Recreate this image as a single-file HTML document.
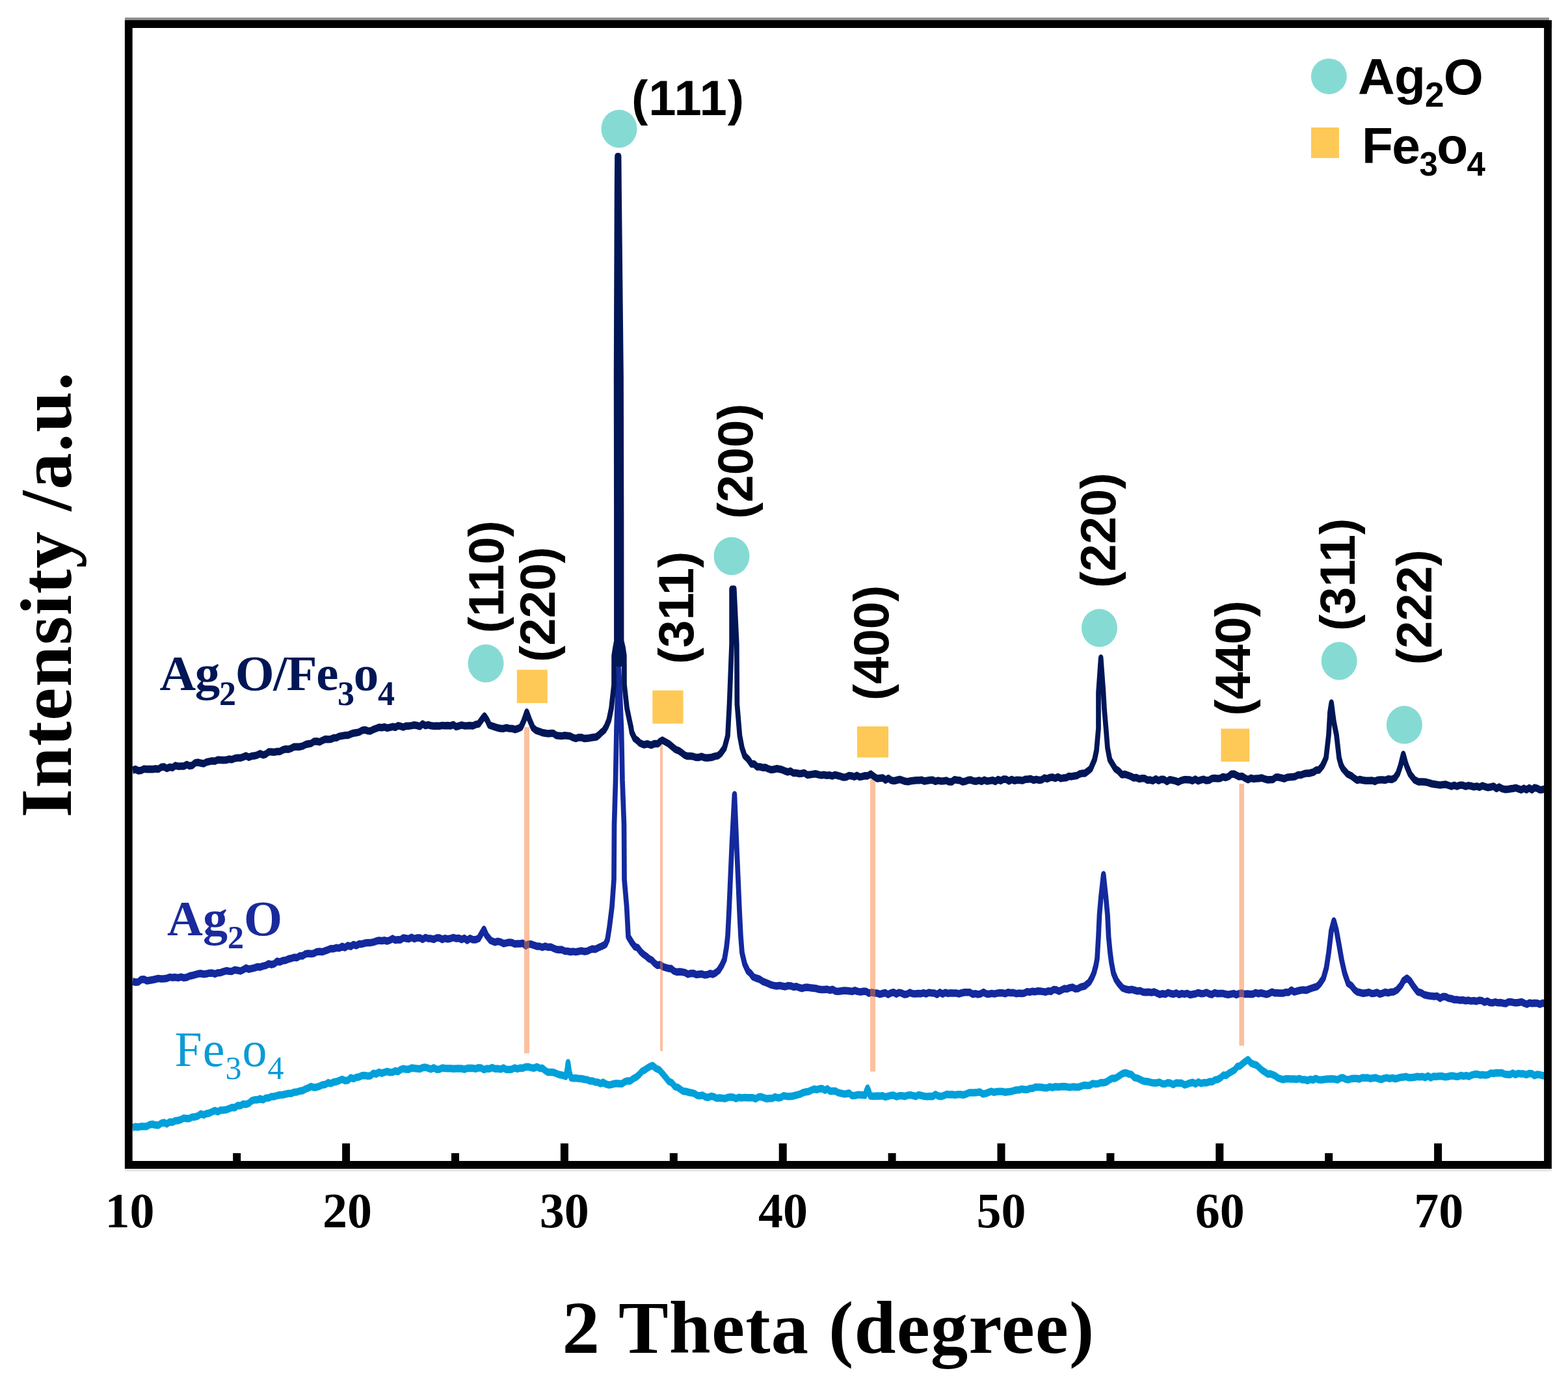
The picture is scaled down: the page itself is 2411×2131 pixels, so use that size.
<!DOCTYPE html>
<html><head><meta charset="utf-8"><title>XRD patterns</title>
<style>html,body{margin:0;padding:0;background:#fff;overflow:hidden;}svg{display:block;}</style>
</head><body>
<svg width="2411" height="2131" viewBox="0 0 2411 2131">
<path transform="scale(0.667 1)" d="M305.70 1733.7 L312.29 1732.3 L318.89 1732.9 L325.49 1731.8 L332.08 1732.1 L338.68 1731.7 L345.28 1729.2 L351.87 1728.5 L358.47 1729.8 L365.00 1730.1 L371.53 1727.1 L378.06 1726.0 L384.59 1727.9 L391.12 1725.0 L397.65 1725.4 L404.18 1723.2 L410.71 1722.8 L417.24 1721.4 L423.75 1719.1 L430.27 1719.8 L436.78 1719.7 L443.30 1717.4 L449.81 1717.2 L456.32 1715.9 L462.84 1712.7 L469.35 1714.2 L475.86 1712.2 L482.39 1711.5 L488.92 1709.4 L495.45 1707.4 L501.98 1709.3 L508.51 1706.9 L515.04 1706.7 L521.57 1706.3 L528.10 1704.6 L534.63 1702.8 L541.15 1703.0 L547.66 1699.8 L554.17 1700.0 L560.69 1697.4 L567.20 1697.9 L573.71 1696.4 L580.23 1692.3 L586.74 1691.1 L593.25 1691.1 L599.77 1689.2 L606.28 1691.0 L612.79 1688.2 L619.31 1688.0 L625.82 1686.0 L632.33 1685.9 L638.85 1684.5 L645.36 1683.5 L651.87 1683.2 L658.40 1682.3 L664.93 1681.2 L671.46 1681.2 L677.99 1679.2 L684.52 1678.9 L691.05 1677.5 L697.58 1676.8 L704.11 1674.5 L710.64 1672.7 L717.16 1670.5 L723.67 1672.0 L730.18 1671.4 L736.70 1670.2 L743.21 1667.9 L749.73 1667.5 L756.24 1664.7 L762.75 1665.9 L769.27 1663.7 L775.80 1663.1 L782.33 1661.2 L788.86 1659.5 L795.39 1661.5 L801.92 1661.1 L808.45 1657.0 L814.98 1658.6 L821.51 1656.4 L828.04 1655.8 L834.55 1653.7 L841.06 1653.5 L847.58 1654.4 L854.09 1653.9 L860.60 1650.2 L867.12 1651.4 L873.63 1648.6 L880.14 1650.2 L886.66 1648.6 L892.80 1647.4 L898.95 1648.8 L905.10 1648.6 L911.24 1646.4 L917.39 1647.6 L923.54 1644.5 L929.69 1643.1 L935.83 1644.1 L942.26 1644.2 L948.69 1642.0 L955.12 1642.4 L961.54 1642.9 L967.97 1643.4 L974.40 1641.6 L980.83 1641.0 L987.26 1642.4 L993.67 1643.8 L1000.07 1641.8 L1006.48 1644.2 L1012.89 1644.0 L1019.30 1642.1 L1025.71 1642.5 L1032.12 1642.7 L1038.53 1642.7 L1044.96 1643.2 L1051.39 1643.0 L1057.81 1642.8 L1064.24 1643.0 L1070.67 1644.1 L1077.10 1642.5 L1083.53 1642.2 L1089.96 1642.4 L1096.36 1643.3 L1102.77 1641.7 L1109.18 1642.0 L1115.59 1644.6 L1122.00 1643.0 L1128.41 1643.2 L1134.82 1641.4 L1141.23 1643.3 L1147.65 1643.1 L1154.07 1643.9 L1160.49 1642.0 L1166.92 1644.3 L1173.34 1644.4 L1179.76 1644.1 L1186.18 1641.9 L1192.60 1643.3 L1199.03 1642.1 L1205.45 1642.2 L1211.87 1640.4 L1218.29 1640.3 L1224.70 1641.6 L1231.11 1642.2 L1237.52 1640.2 L1243.93 1642.4 L1250.34 1642.3 L1256.75 1646.0 L1263.16 1648.6 L1269.57 1648.4 L1276.01 1648.7 L1282.46 1650.5 L1288.91 1652.2 L1295.35 1653.0 L1304.35 1655.0 L1307.35 1645.0 L1309.45 1634.0 L1312.59 1648.0 L1316.34 1657.0 L1320.99 1657.8 L1327.40 1657.6 L1333.81 1658.2 L1340.22 1658.4 L1346.63 1659.5 L1353.04 1660.1 L1359.45 1662.0 L1365.85 1662.0 L1372.26 1663.8 L1378.26 1664.0 L1384.26 1666.1 L1390.25 1664.0 L1396.25 1666.6 L1402.25 1667.9 L1408.25 1667.7 L1414.64 1666.5 L1421.04 1665.7 L1427.44 1666.2 L1433.85 1666.2 L1440.25 1663.2 L1446.66 1661.9 L1453.07 1662.0 L1459.97 1658.4 L1466.87 1656.0 L1473.76 1652.0 L1480.13 1647.1 L1486.51 1645.0 L1492.50 1642.1 L1498.50 1639.9 L1504.50 1638.2 L1512.22 1642.8 L1519.94 1645.0 L1527.59 1650.8 L1535.23 1657.0 L1542.08 1662.8 L1548.93 1664.8 L1555.77 1670.5 L1562.22 1671.8 L1568.67 1674.9 L1575.11 1677.7 L1581.56 1678.2 L1587.97 1679.5 L1594.38 1680.2 L1600.79 1681.3 L1607.20 1684.2 L1613.61 1684.8 L1620.01 1684.0 L1626.42 1686.7 L1632.83 1687.3 L1639.24 1685.4 L1645.65 1686.3 L1652.06 1688.6 L1658.47 1688.0 L1664.90 1688.5 L1671.33 1689.1 L1677.75 1687.4 L1684.18 1686.7 L1690.61 1687.3 L1697.04 1689.1 L1703.47 1687.2 L1709.90 1688.0 L1716.30 1687.4 L1722.71 1687.7 L1729.12 1687.7 L1735.53 1687.7 L1741.94 1689.5 L1748.35 1686.8 L1754.76 1686.2 L1761.17 1688.0 L1767.60 1689.3 L1774.03 1688.7 L1780.45 1688.8 L1786.88 1686.5 L1793.31 1688.0 L1799.74 1687.6 L1806.17 1684.7 L1812.59 1685.4 L1819.00 1685.8 L1825.41 1685.6 L1831.82 1684.5 L1838.23 1683.4 L1844.64 1682.2 L1851.05 1680.0 L1857.46 1678.9 L1863.87 1678.2 L1870.28 1676.2 L1876.69 1674.5 L1883.10 1675.4 L1889.51 1674.0 L1895.50 1673.8 L1901.50 1676.3 L1907.50 1674.1 L1913.49 1677.7 L1919.49 1677.5 L1925.49 1677.4 L1931.89 1679.9 L1938.30 1680.9 L1944.70 1681.9 L1951.10 1681.7 L1957.51 1680.7 L1963.91 1684.4 L1970.31 1684.5 L1978.21 1683.2 L1986.11 1683.4 L1994.00 1684.0 L1997.00 1678.0 L2000.00 1673.0 L2003.00 1678.0 L2006.00 1685.0 L2013.87 1685.6 L2021.74 1685.1 L2028.15 1685.2 L2034.56 1684.7 L2040.97 1686.6 L2047.38 1685.4 L2053.79 1684.3 L2060.19 1684.0 L2066.60 1686.1 L2073.01 1684.8 L2079.44 1684.7 L2085.87 1685.7 L2092.30 1684.2 L2098.73 1683.6 L2105.15 1684.7 L2111.58 1685.7 L2118.01 1683.4 L2124.44 1684.5 L2130.85 1685.6 L2137.26 1686.0 L2143.67 1685.6 L2150.07 1685.7 L2156.48 1682.7 L2162.89 1685.0 L2169.30 1685.8 L2175.71 1684.5 L2182.14 1682.6 L2188.57 1683.1 L2195.00 1682.8 L2201.42 1683.4 L2207.85 1682.8 L2214.28 1682.7 L2220.71 1683.5 L2227.14 1682.2 L2233.55 1680.1 L2239.96 1680.0 L2246.36 1679.9 L2252.77 1679.6 L2259.18 1679.1 L2265.59 1682.0 L2272.00 1681.3 L2278.41 1679.7 L2284.84 1678.0 L2291.27 1679.4 L2297.69 1678.5 L2304.12 1678.3 L2310.55 1678.3 L2316.98 1679.2 L2323.41 1678.8 L2329.84 1678.3 L2336.24 1677.2 L2342.65 1675.9 L2349.06 1675.8 L2355.47 1674.4 L2361.88 1675.3 L2368.29 1675.3 L2374.70 1673.4 L2381.11 1673.2 L2387.54 1671.4 L2393.97 1671.4 L2400.39 1671.8 L2406.82 1672.4 L2413.25 1672.7 L2419.68 1671.0 L2426.11 1672.2 L2432.53 1670.8 L2439.32 1671.3 L2446.11 1670.7 L2452.90 1670.6 L2459.69 1671.1 L2466.48 1671.9 L2473.27 1670.9 L2480.06 1671.3 L2486.49 1671.4 L2492.92 1669.9 L2499.34 1668.5 L2505.77 1668.9 L2512.20 1668.8 L2518.63 1665.9 L2525.06 1666.6 L2531.48 1666.2 L2537.89 1664.5 L2544.30 1664.7 L2550.71 1663.5 L2557.12 1660.5 L2563.53 1658.1 L2569.94 1658.1 L2576.35 1655.8 L2582.76 1652.8 L2589.21 1650.2 L2595.65 1649.4 L2602.06 1651.3 L2608.47 1652.1 L2614.88 1656.7 L2621.29 1657.6 L2627.70 1659.6 L2634.11 1661.7 L2640.52 1662.8 L2646.93 1663.1 L2653.35 1664.3 L2659.77 1665.1 L2666.19 1665.0 L2672.61 1663.9 L2679.04 1666.2 L2685.46 1666.5 L2691.89 1664.8 L2698.31 1665.3 L2704.74 1667.6 L2711.17 1665.0 L2717.60 1665.2 L2724.03 1665.3 L2730.45 1668.1 L2736.88 1666.8 L2743.29 1665.2 L2749.70 1664.2 L2756.11 1666.6 L2762.52 1663.6 L2768.93 1665.7 L2775.34 1664.6 L2781.75 1664.8 L2788.16 1663.1 L2794.57 1663.2 L2800.97 1660.4 L2807.38 1659.7 L2813.79 1657.1 L2820.24 1653.1 L2826.69 1653.4 L2833.13 1650.1 L2839.58 1647.7 L2845.99 1645.2 L2852.40 1639.8 L2858.81 1638.9 L2865.22 1634.8 L2876.76 1629.2 L2883.81 1634.4 L2890.85 1636.5 L2897.26 1637.9 L2903.67 1641.9 L2910.08 1645.7 L2916.49 1648.5 L2922.49 1651.4 L2928.49 1651.0 L2934.48 1652.5 L2940.48 1654.5 L2946.48 1657.5 L2952.47 1658.8 L2958.60 1659.9 L2964.73 1658.7 L2970.86 1658.8 L2976.99 1659.0 L2983.11 1659.0 L2989.24 1659.4 L2995.37 1658.3 L3001.50 1660.0 L3007.83 1659.9 L3014.15 1661.5 L3020.48 1659.4 L3026.81 1660.5 L3033.13 1658.2 L3039.46 1660.0 L3045.79 1660.2 L3052.11 1659.7 L3058.44 1659.1 L3064.77 1658.9 L3071.06 1658.8 L3077.36 1659.3 L3083.66 1660.2 L3089.96 1657.4 L3096.25 1657.1 L3102.55 1659.4 L3108.85 1660.0 L3115.14 1658.5 L3121.44 1658.2 L3127.74 1658.3 L3134.05 1659.0 L3140.36 1657.1 L3146.67 1657.3 L3152.98 1657.1 L3159.30 1658.4 L3165.61 1657.4 L3171.92 1657.1 L3178.23 1658.7 L3184.54 1659.6 L3190.85 1657.9 L3197.17 1657.1 L3203.48 1658.4 L3209.79 1657.3 L3216.10 1658.7 L3222.41 1657.7 L3228.73 1656.4 L3235.04 1656.1 L3241.35 1655.3 L3247.66 1656.8 L3253.97 1656.8 L3260.28 1656.2 L3266.60 1655.2 L3272.91 1655.7 L3279.22 1655.3 L3285.53 1656.7 L3291.84 1654.3 L3298.16 1657.1 L3304.47 1655.0 L3310.78 1655.3 L3317.09 1654.7 L3323.40 1654.5 L3329.72 1655.7 L3336.03 1655.6 L3342.34 1654.5 L3348.65 1654.1 L3354.96 1654.9 L3361.27 1655.3 L3367.59 1653.5 L3373.90 1654.6 L3380.21 1653.7 L3386.51 1655.0 L3392.80 1652.9 L3399.10 1651.8 L3405.40 1651.5 L3411.69 1652.9 L3417.99 1652.4 L3424.29 1653.1 L3430.58 1652.4 L3436.88 1649.9 L3443.18 1650.5 L3449.49 1649.4 L3455.80 1649.8 L3462.11 1649.6 L3468.43 1651.5 L3474.74 1652.1 L3481.05 1652.3 L3487.36 1650.0 L3493.67 1652.3 L3499.99 1650.4 L3506.30 1651.1 L3512.51 1651.1 L3518.72 1652.5 L3524.94 1650.5 L3531.15 1650.8 L3537.36 1653.7 L3543.58 1652.1 L3549.79 1652.6 L3556.01 1653.7 L3562.22 1653.7" fill="none" stroke="#00a0da" stroke-width="11.5" stroke-linejoin="round" stroke-linecap="butt"/>
<path transform="scale(0.667 1)" d="M305.70 1509.0 L312.29 1510.2 L318.89 1509.7 L325.49 1506.1 L332.08 1505.8 L338.68 1508.0 L345.28 1507.2 L351.87 1506.5 L358.47 1505.5 L365.00 1504.4 L371.53 1505.1 L378.06 1504.8 L384.59 1504.3 L391.12 1502.4 L397.65 1503.1 L404.18 1502.6 L410.71 1503.4 L417.24 1502.2 L423.75 1503.4 L430.27 1502.7 L436.78 1500.7 L443.30 1499.8 L449.81 1498.6 L456.32 1497.3 L462.84 1496.7 L469.35 1497.7 L475.86 1497.3 L482.39 1496.2 L488.92 1496.0 L495.45 1497.4 L501.98 1495.7 L508.51 1495.4 L515.04 1493.8 L521.57 1492.6 L528.10 1493.2 L534.63 1493.4 L541.15 1491.3 L547.66 1491.9 L554.17 1492.9 L560.69 1491.0 L567.20 1488.4 L573.71 1490.2 L580.23 1489.1 L586.74 1488.1 L593.25 1486.5 L599.77 1486.9 L606.28 1485.4 L612.79 1484.4 L619.31 1481.8 L625.82 1483.0 L632.33 1481.9 L638.85 1478.0 L645.36 1479.1 L651.87 1477.1 L658.40 1476.6 L664.93 1474.5 L671.46 1473.5 L677.99 1472.1 L684.52 1472.5 L691.05 1469.7 L697.58 1469.7 L704.11 1466.7 L710.64 1466.0 L717.16 1466.6 L723.67 1465.8 L730.18 1463.4 L736.70 1463.0 L743.21 1463.5 L749.73 1461.9 L756.24 1460.3 L762.75 1458.5 L769.27 1458.7 L775.80 1457.2 L782.33 1457.8 L788.86 1455.0 L795.39 1456.9 L801.92 1453.8 L808.45 1455.2 L814.98 1452.3 L821.51 1453.8 L828.04 1451.3 L834.55 1451.4 L841.06 1450.1 L847.58 1449.5 L854.09 1449.4 L860.60 1448.6 L867.12 1447.0 L873.63 1446.0 L880.14 1446.5 L886.66 1445.8 L892.80 1447.0 L898.95 1445.5 L905.10 1443.1 L911.24 1445.4 L917.39 1444.7 L923.54 1444.9 L929.69 1442.0 L935.83 1442.7 L942.26 1443.6 L948.69 1441.2 L955.12 1443.4 L961.54 1442.0 L967.97 1441.9 L974.40 1444.3 L980.83 1441.5 L987.26 1443.0 L993.67 1443.1 L1000.07 1444.3 L1006.48 1442.1 L1012.89 1442.0 L1019.30 1444.4 L1025.71 1442.7 L1032.12 1443.8 L1038.53 1443.0 L1044.96 1441.5 L1051.39 1442.9 L1057.81 1442.5 L1064.24 1444.5 L1070.67 1442.6 L1077.10 1445.9 L1083.53 1442.8 L1089.96 1444.7 L1096.70 1444.7 L1103.45 1443.0 L1109.45 1436.0 L1115.59 1429.0 L1121.44 1438.0 L1131.03 1446.0 L1141.23 1448.7 L1147.68 1447.3 L1154.12 1448.4 L1160.57 1450.7 L1167.02 1449.9 L1173.43 1448.9 L1179.84 1449.3 L1186.24 1451.3 L1192.65 1450.9 L1199.06 1451.0 L1205.47 1450.3 L1211.88 1454.2 L1218.29 1451.7 L1224.70 1451.8 L1231.11 1453.4 L1237.52 1454.9 L1243.93 1455.0 L1250.36 1456.5 L1256.78 1454.9 L1263.21 1456.3 L1269.64 1455.9 L1276.07 1458.0 L1282.50 1459.8 L1288.92 1460.3 L1295.35 1460.1 L1301.76 1462.2 L1308.17 1462.4 L1314.58 1463.5 L1320.99 1462.9 L1327.40 1463.6 L1333.81 1462.8 L1340.22 1461.9 L1346.63 1462.9 L1353.04 1462.6 L1359.45 1460.5 L1365.85 1458.9 L1372.26 1459.5 L1379.54 1457.1 L1386.81 1455.0 L1395.50 1452.0 L1400.30 1445.0 L1404.80 1426.0 L1410.79 1394.0 L1415.29 1352.0 L1416.04 1268.0 L1419.04 1200.0 L1421.29 1120.0 L1424.29 1060.0 L1426.54 1028.0 L1428.79 1060.0 L1432.53 1120.0 L1434.78 1200.0 L1438.53 1268.0 L1439.28 1352.0 L1444.68 1394.0 L1446.78 1420.0 L1448.28 1440.0 L1457.42 1450.0 L1463.83 1455.6 L1470.24 1457.2 L1476.65 1463.1 L1483.06 1467.1 L1489.51 1470.1 L1495.95 1474.0 L1502.40 1476.1 L1508.85 1480.8 L1515.25 1484.2 L1521.66 1483.3 L1528.07 1486.3 L1534.48 1487.6 L1540.89 1489.0 L1547.30 1489.3 L1553.71 1493.0 L1560.12 1494.5 L1566.53 1494.1 L1572.94 1494.6 L1579.35 1495.4 L1585.76 1497.9 L1592.20 1496.7 L1598.65 1496.4 L1605.10 1498.4 L1611.54 1497.9 L1617.95 1497.6 L1624.36 1499.0 L1630.77 1498.6 L1637.18 1496.7 L1643.18 1498.1 L1649.18 1496.0 L1656.67 1492.0 L1664.17 1484.0 L1670.16 1475.0 L1674.66 1457.0 L1677.66 1439.0 L1680.66 1400.0 L1683.66 1353.0 L1687.11 1300.0 L1693.25 1222.0 L1698.20 1300.0 L1701.65 1353.0 L1704.65 1400.0 L1707.65 1440.0 L1710.64 1465.0 L1716.64 1482.0 L1724.14 1493.0 L1730.13 1496.5 L1736.13 1502.0 L1743.48 1504.0 L1750.82 1505.5 L1758.17 1508.9 L1765.52 1510.8 L1771.93 1512.5 L1778.34 1514.4 L1784.75 1515.4 L1791.15 1515.9 L1797.58 1515.3 L1804.01 1516.3 L1810.44 1517.0 L1816.87 1515.4 L1823.29 1515.9 L1829.72 1517.5 L1836.15 1516.8 L1842.58 1518.5 L1848.99 1519.7 L1855.40 1518.3 L1861.81 1518.1 L1868.22 1518.8 L1874.63 1519.3 L1881.03 1519.7 L1887.44 1521.1 L1893.85 1521.4 L1900.28 1521.5 L1906.71 1521.1 L1913.14 1522.5 L1919.57 1521.2 L1925.99 1523.9 L1932.42 1524.3 L1938.85 1523.7 L1945.28 1523.1 L1951.67 1523.2 L1958.07 1523.8 L1964.47 1524.4 L1970.86 1522.8 L1977.26 1524.4 L1983.66 1525.1 L1990.05 1524.2 L1996.45 1524.2 L2002.85 1527.1 L2009.25 1525.9 L2015.64 1526.7 L2022.04 1527.0 L2028.33 1528.6 L2034.61 1527.5 L2040.90 1526.5 L2047.18 1529.0 L2053.47 1526.9 L2059.76 1525.7 L2066.04 1528.2 L2072.33 1526.1 L2078.61 1526.9 L2084.90 1528.9 L2091.19 1528.4 L2097.47 1526.1 L2103.76 1527.8 L2110.04 1528.0 L2116.33 1527.6 L2122.62 1527.8 L2128.90 1526.7 L2135.19 1528.0 L2141.48 1526.1 L2147.76 1526.8 L2154.05 1527.0 L2160.33 1529.0 L2166.62 1525.8 L2172.91 1528.2 L2179.19 1526.1 L2185.48 1527.4 L2191.76 1526.7 L2198.05 1527.0 L2204.34 1526.9 L2210.62 1528.0 L2216.91 1526.7 L2223.20 1525.8 L2229.48 1525.8 L2235.77 1525.7 L2242.05 1528.5 L2248.34 1527.7 L2254.63 1528.9 L2260.91 1528.0 L2267.20 1525.6 L2273.48 1527.9 L2279.77 1528.4 L2286.06 1527.4 L2292.34 1528.1 L2298.63 1527.1 L2304.92 1526.5 L2311.20 1526.7 L2317.49 1527.8 L2323.77 1525.7 L2330.06 1526.5 L2336.35 1526.2 L2342.63 1527.8 L2348.92 1527.1 L2355.20 1527.4 L2361.49 1526.9 L2367.78 1524.8 L2374.06 1525.4 L2380.18 1524.2 L2386.31 1524.8 L2392.43 1523.7 L2398.55 1524.0 L2404.67 1524.6 L2410.79 1525.2 L2416.92 1523.7 L2423.04 1524.3 L2429.16 1521.4 L2435.28 1522.0 L2441.40 1524.1 L2447.53 1522.0 L2453.80 1520.1 L2460.08 1520.4 L2466.35 1518.6 L2472.63 1518.0 L2478.90 1520.3 L2485.18 1520.0 L2491.45 1517.6 L2500.75 1516.0 L2511.24 1510.0 L2517.24 1503.0 L2521.74 1496.0 L2526.24 1485.0 L2529.24 1474.0 L2532.23 1440.0 L2534.48 1407.0 L2537.93 1380.0 L2543.78 1345.0 L2549.48 1380.0 L2553.22 1407.0 L2555.62 1440.0 L2559.22 1465.0 L2562.22 1480.0 L2566.72 1496.0 L2572.71 1506.0 L2578.71 1512.0 L2587.71 1519.0 L2595.50 1521.0 L2603.30 1522.0 L2609.45 1521.3 L2615.59 1522.5 L2621.74 1523.8 L2628.25 1523.3 L2634.77 1525.3 L2641.28 1525.8 L2647.79 1525.3 L2654.31 1526.1 L2660.82 1525.0 L2667.33 1527.0 L2673.85 1528.9 L2680.36 1527.7 L2686.66 1528.6 L2692.95 1526.2 L2699.25 1527.8 L2705.55 1528.5 L2711.84 1526.8 L2718.14 1529.1 L2724.44 1527.6 L2730.73 1528.4 L2737.03 1527.4 L2743.33 1529.5 L2749.63 1528.7 L2755.92 1528.0 L2762.22 1526.4 L2768.52 1527.7 L2774.80 1527.5 L2781.09 1526.0 L2787.37 1528.0 L2793.66 1529.1 L2799.95 1526.5 L2806.23 1527.7 L2812.52 1527.6 L2818.80 1527.4 L2825.09 1528.5 L2831.38 1529.3 L2837.66 1528.4 L2843.95 1527.6 L2850.24 1529.4 L2856.52 1527.7 L2862.81 1527.0 L2869.09 1528.5 L2875.38 1528.1 L2881.67 1528.4 L2887.95 1528.6 L2894.24 1526.3 L2900.52 1527.7 L2906.81 1526.8 L2913.10 1527.7 L2919.38 1528.8 L2925.67 1527.5 L2931.96 1525.2 L2938.24 1526.7 L2944.53 1526.8 L2951.04 1527.0 L2957.55 1527.1 L2964.07 1525.7 L2970.58 1525.8 L2977.09 1522.3 L2983.61 1525.1 L2990.12 1523.8 L2996.64 1522.8 L3003.15 1521.9 L3012.07 1522.4 L3020.99 1520.0 L3029.99 1518.0 L3035.98 1516.9 L3041.98 1513.0 L3050.97 1504.0 L3057.72 1488.0 L3062.97 1465.0 L3068.97 1431.0 L3074.96 1416.0 L3080.96 1431.0 L3086.96 1453.0 L3092.95 1476.0 L3099.70 1496.0 L3107.95 1512.0 L3115.44 1515.6 L3122.94 1522.0 L3128.94 1525.1 L3134.93 1526.0 L3142.43 1527.2 L3149.93 1526.5 L3156.05 1525.6 L3162.17 1527.6 L3168.29 1527.2 L3174.41 1525.9 L3180.53 1528.3 L3186.66 1527.3 L3193.22 1525.4 L3199.78 1526.6 L3206.33 1525.3 L3212.89 1525.0 L3220.69 1522.0 L3229.84 1515.0 L3235.38 1508.0 L3243.48 1504.0 L3250.37 1508.0 L3257.12 1515.0 L3268.37 1525.0 L3275.86 1526.4 L3283.36 1529.5 L3291.83 1530.8 L3300.30 1531.6 L3306.81 1532.0 L3313.32 1531.6 L3319.83 1534.9 L3326.34 1532.2 L3332.86 1532.5 L3339.37 1534.8 L3345.88 1535.4 L3352.37 1537.1 L3358.86 1537.0 L3365.35 1537.9 L3371.84 1537.5 L3378.33 1538.7 L3384.81 1538.0 L3391.30 1539.1 L3397.51 1538.5 L3403.71 1539.5 L3409.91 1538.0 L3416.11 1538.4 L3422.31 1541.1 L3428.51 1539.2 L3434.71 1541.5 L3440.92 1541.8 L3447.12 1540.6 L3453.32 1541.8 L3459.52 1541.4 L3465.56 1542.5 L3471.60 1542.9 L3477.64 1540.4 L3483.68 1540.6 L3489.73 1541.4 L3495.77 1541.8 L3501.81 1541.3 L3507.85 1540.4 L3513.89 1542.5 L3519.93 1544.0 L3525.97 1542.0 L3532.01 1542.7 L3538.05 1542.2 L3544.10 1542.5 L3550.14 1544.1 L3556.18 1542.2 L3562.22 1543.0" fill="none" stroke="#13299d" stroke-width="11.5" stroke-linejoin="round" stroke-linecap="butt"/>
<rect x="806.0" y="1118" width="8" height="501.5" fill="#f77e3d" fill-opacity="0.49"/>
<rect x="1015.0" y="1145" width="4" height="471.0" fill="#f77e3d" fill-opacity="0.49"/>
<rect x="1338.0" y="1193" width="8" height="454.5" fill="#f77e3d" fill-opacity="0.49"/>
<rect x="1905.4" y="1205" width="7.6" height="402.8" fill="#f77e3d" fill-opacity="0.49"/>
<path transform="scale(0.667 1)" d="M305.70 1184.3 L312.29 1182.7 L318.89 1185.0 L325.49 1184.4 L332.08 1182.3 L338.68 1182.8 L345.28 1182.4 L351.87 1182.8 L358.47 1182.0 L365.00 1182.6 L371.53 1179.6 L378.06 1179.0 L384.59 1181.4 L391.12 1179.5 L397.65 1180.3 L404.18 1177.1 L410.71 1178.2 L417.24 1178.0 L423.75 1178.1 L430.27 1175.6 L436.78 1177.5 L443.30 1176.7 L449.81 1172.9 L456.32 1172.2 L462.84 1173.3 L469.35 1174.1 L475.86 1171.8 L482.39 1170.9 L488.92 1169.9 L495.45 1170.2 L501.98 1168.3 L508.51 1168.5 L515.04 1168.8 L521.57 1168.6 L528.10 1167.2 L534.63 1167.7 L541.15 1166.0 L547.66 1165.2 L554.17 1165.3 L560.69 1163.9 L567.20 1162.1 L573.71 1164.3 L580.23 1162.5 L586.74 1162.1 L593.25 1160.8 L599.77 1158.8 L606.28 1160.8 L612.79 1159.5 L619.31 1156.0 L625.82 1155.9 L632.33 1156.4 L638.85 1155.5 L645.36 1155.4 L651.87 1153.0 L658.40 1151.7 L664.93 1152.1 L671.46 1150.5 L677.99 1148.2 L684.52 1148.2 L691.05 1148.2 L697.58 1147.1 L704.11 1144.8 L710.64 1143.8 L717.16 1143.1 L723.67 1140.1 L730.18 1139.8 L736.70 1140.8 L743.21 1138.4 L749.73 1136.5 L756.24 1136.8 L762.75 1136.4 L769.27 1134.6 L775.80 1134.2 L782.33 1132.1 L788.86 1131.4 L795.39 1130.6 L801.92 1130.6 L808.45 1128.7 L814.98 1127.2 L821.51 1126.6 L828.04 1125.6 L834.55 1123.0 L841.06 1122.2 L847.58 1123.7 L854.09 1123.9 L860.60 1121.6 L867.12 1120.0 L873.63 1118.3 L880.14 1118.7 L886.66 1117.8 L892.80 1119.3 L898.95 1118.4 L905.10 1117.3 L911.24 1118.3 L917.39 1115.8 L923.54 1116.6 L929.69 1118.0 L935.83 1116.2 L942.26 1116.3 L948.69 1115.6 L955.12 1114.7 L961.54 1115.5 L967.97 1116.8 L974.40 1113.1 L980.83 1115.7 L987.26 1114.5 L993.67 1115.8 L1000.07 1116.2 L1006.48 1115.9 L1012.89 1116.3 L1019.30 1115.4 L1025.71 1115.8 L1032.12 1115.5 L1038.53 1115.9 L1044.96 1114.3 L1051.39 1117.2 L1057.81 1116.2 L1064.24 1114.8 L1070.67 1115.9 L1077.10 1115.8 L1083.53 1115.4 L1089.96 1115.9 L1096.70 1113.9 L1103.45 1113.0 L1110.94 1106.0 L1116.94 1101.0 L1122.94 1107.0 L1128.49 1115.0 L1134.90 1116.4 L1141.30 1117.9 L1147.71 1119.2 L1154.12 1120.0 L1160.78 1120.2 L1167.44 1119.0 L1174.09 1120.0 L1180.75 1120.2 L1187.41 1121.7 L1194.15 1120.2 L1200.90 1118.0 L1207.65 1108.0 L1214.39 1095.0 L1220.39 1106.0 L1228.64 1119.0 L1236.28 1123.2 L1243.93 1124.8 L1250.34 1126.5 L1256.75 1127.2 L1263.16 1127.9 L1269.57 1127.4 L1276.01 1127.6 L1282.46 1130.7 L1288.91 1131.2 L1295.35 1131.6 L1301.76 1130.7 L1308.17 1131.2 L1314.58 1131.8 L1320.99 1134.2 L1327.40 1135.4 L1333.81 1133.9 L1340.22 1133.7 L1346.63 1135.4 L1355.47 1135.1 L1364.32 1134.0 L1374.81 1133.0 L1380.81 1130.0 L1386.81 1126.0 L1392.20 1123.0 L1397.75 1117.0 L1403.75 1107.0 L1409.30 1089.0 L1415.29 1053.0 L1415.44 1008.0 L1418.29 996.0 L1421.14 986.0 L1421.14 800.0 L1420.69 578.0 L1422.19 290.0 L1422.79 240.7 L1426.69 240.7 L1427.29 290.0 L1431.78 578.0 L1432.53 800.0 L1432.68 986.0 L1436.28 996.0 L1438.98 1008.0 L1439.28 1053.0 L1445.28 1089.0 L1450.97 1107.0 L1454.27 1117.0 L1456.52 1126.0 L1463.27 1135.6 L1469.27 1138.5 L1475.26 1142.5 L1484.26 1145.0 L1492.80 1143.8 L1501.35 1145.6 L1509.00 1143.4 L1516.64 1143.6 L1521.74 1140.0 L1526.99 1138.0 L1532.23 1140.0 L1542.43 1143.9 L1550.07 1148.3 L1557.72 1152.5 L1564.57 1154.1 L1571.41 1157.3 L1578.26 1161.0 L1584.71 1162.6 L1591.15 1162.6 L1597.60 1163.0 L1604.05 1164.5 L1610.46 1164.6 L1616.87 1163.2 L1623.28 1164.7 L1629.69 1165.3 L1640.18 1164.5 L1647.75 1162.9 L1655.32 1161.9 L1661.17 1158.5 L1670.16 1150.0 L1677.66 1131.0 L1681.41 1083.0 L1686.81 990.0 L1686.81 906.0 L1692.35 906.0 L1698.35 990.0 L1699.25 1083.0 L1705.25 1131.0 L1710.64 1150.0 L1716.64 1162.0 L1724.51 1167.2 L1732.38 1174.7 L1738.79 1174.7 L1745.20 1178.9 L1751.61 1178.9 L1758.02 1180.2 L1764.43 1179.9 L1770.84 1182.0 L1777.25 1183.4 L1783.66 1183.0 L1790.07 1181.8 L1796.48 1182.4 L1802.89 1183.5 L1809.30 1185.3 L1815.74 1186.9 L1822.19 1185.6 L1828.64 1188.4 L1835.08 1188.4 L1841.49 1189.4 L1847.90 1189.2 L1854.31 1188.4 L1860.72 1191.4 L1867.13 1191.1 L1873.54 1190.4 L1879.95 1189.7 L1886.36 1191.0 L1892.78 1191.9 L1899.21 1191.3 L1905.64 1192.2 L1912.07 1191.7 L1918.50 1193.1 L1924.93 1191.4 L1931.35 1192.5 L1937.78 1193.6 L1944.19 1195.1 L1950.60 1194.7 L1957.01 1192.5 L1963.42 1193.0 L1969.52 1194.3 L1975.61 1192.3 L1981.71 1194.6 L1987.81 1193.9 L1993.90 1192.7 L2000.00 1193.0 L2007.50 1190.0 L2014.99 1194.0 L2022.04 1197.0 L2028.55 1196.4 L2035.07 1195.9 L2041.58 1199.3 L2048.09 1196.6 L2054.61 1199.8 L2061.12 1200.6 L2067.63 1199.5 L2074.15 1198.4 L2080.66 1199.9 L2086.96 1201.3 L2093.25 1201.7 L2099.55 1200.8 L2105.85 1200.2 L2112.14 1199.8 L2118.44 1199.8 L2124.74 1199.3 L2131.03 1201.1 L2137.33 1200.3 L2143.63 1199.5 L2149.93 1199.3 L2156.22 1201.4 L2162.52 1200.1 L2168.82 1200.9 L2175.10 1200.8 L2181.39 1200.1 L2187.67 1202.0 L2193.96 1202.1 L2200.25 1198.8 L2206.53 1199.4 L2212.82 1199.8 L2219.10 1202.1 L2225.39 1201.3 L2231.68 1199.6 L2237.96 1199.1 L2244.25 1200.7 L2250.54 1201.2 L2256.82 1199.9 L2263.11 1201.4 L2269.39 1199.3 L2275.68 1201.1 L2281.97 1200.4 L2288.25 1199.6 L2294.54 1201.4 L2300.82 1198.6 L2307.11 1200.4 L2313.40 1198.0 L2319.68 1198.3 L2325.97 1200.9 L2332.26 1198.4 L2338.54 1200.3 L2344.83 1199.3 L2351.11 1199.5 L2357.40 1200.1 L2363.69 1198.2 L2369.97 1198.0 L2376.26 1197.6 L2382.54 1199.5 L2388.83 1198.3 L2395.12 1199.4 L2401.40 1199.0 L2407.69 1196.1 L2413.98 1197.4 L2420.26 1195.6 L2426.55 1195.1 L2432.83 1196.6 L2439.11 1194.5 L2445.38 1196.9 L2451.66 1196.1 L2457.94 1195.7 L2464.21 1193.5 L2470.49 1193.9 L2476.76 1193.0 L2482.76 1192.5 L2488.76 1190.0 L2494.75 1189.1 L2500.75 1189.0 L2507.50 1185.8 L2514.24 1182.0 L2523.24 1168.0 L2527.74 1154.0 L2532.23 1120.0 L2532.23 1065.0 L2537.78 1012.0 L2543.63 1065.0 L2545.73 1090.0 L2549.63 1120.0 L2553.22 1150.0 L2558.47 1168.0 L2571.21 1182.0 L2578.71 1185.5 L2586.21 1191.0 L2593.20 1190.4 L2600.20 1192.0 L2607.20 1193.8 L2613.47 1196.0 L2619.75 1195.5 L2626.02 1197.6 L2632.30 1196.7 L2638.57 1196.8 L2644.85 1199.4 L2651.12 1199.1 L2657.64 1200.5 L2664.15 1197.7 L2670.66 1200.2 L2677.18 1198.3 L2683.69 1198.6 L2690.20 1201.6 L2696.72 1198.7 L2703.23 1199.6 L2709.75 1200.7 L2716.28 1202.3 L2722.81 1200.1 L2729.34 1198.8 L2735.87 1198.8 L2742.40 1198.9 L2748.93 1200.5 L2755.46 1198.0 L2761.99 1200.8 L2768.52 1199.1 L2774.79 1198.3 L2781.07 1200.1 L2787.34 1199.6 L2793.62 1197.0 L2799.89 1196.6 L2806.17 1197.0 L2812.44 1196.8 L2818.99 1194.4 L2825.54 1195.5 L2832.08 1194.0 L2838.38 1190.3 L2844.68 1190.0 L2856.07 1194.0 L2863.57 1193.6 L2871.06 1196.8 L2877.36 1198.7 L2883.66 1196.3 L2889.96 1197.5 L2896.25 1197.1 L2902.55 1196.8 L2908.85 1196.0 L2915.14 1197.7 L2921.66 1198.9 L2928.17 1198.7 L2934.68 1198.4 L2941.20 1195.0 L2947.71 1195.1 L2954.22 1196.2 L2960.74 1197.2 L2967.25 1195.3 L2973.76 1194.8 L2980.06 1194.6 L2986.36 1193.7 L2992.65 1191.4 L2998.95 1191.6 L3005.25 1190.0 L3011.54 1188.9 L3017.84 1189.0 L3028.49 1187.0 L3034.48 1184.0 L3040.48 1184.0 L3047.98 1178.0 L3052.47 1172.0 L3056.97 1165.0 L3062.97 1130.0 L3065.97 1095.0 L3069.27 1081.0 L3074.96 1110.0 L3080.96 1130.0 L3086.96 1165.0 L3091.45 1176.0 L3095.95 1182.0 L3106.45 1190.0 L3114.69 1192.7 L3122.94 1197.0 L3128.94 1199.6 L3134.93 1198.5 L3140.93 1199.5 L3148.43 1200.2 L3155.92 1200.3 L3163.42 1200.0 L3169.42 1201.5 L3175.41 1199.4 L3181.41 1199.0 L3187.41 1199.0 L3193.40 1199.5 L3200.90 1197.7 L3208.40 1198.4 L3215.89 1196.0 L3222.64 1189.0 L3228.64 1177.0 L3234.93 1160.0 L3239.88 1172.0 L3242.88 1178.0 L3250.37 1190.0 L3260.87 1199.0 L3269.27 1201.9 L3277.66 1202.0 L3285.21 1202.3 L3292.75 1203.4 L3300.30 1205.0 L3306.81 1205.7 L3313.32 1206.4 L3319.83 1207.1 L3326.34 1206.4 L3332.86 1206.1 L3339.37 1207.5 L3345.88 1209.0 L3352.37 1207.4 L3358.86 1209.0 L3365.35 1207.2 L3371.84 1207.2 L3378.33 1209.1 L3384.81 1207.8 L3391.30 1208.5 L3397.79 1209.8 L3404.28 1208.9 L3410.77 1210.4 L3417.26 1208.1 L3423.75 1209.6 L3430.24 1210.8 L3436.73 1210.0 L3443.22 1208.9 L3449.71 1212.4 L3456.20 1210.0 L3462.69 1212.6 L3469.18 1213.7 L3475.67 1213.6 L3482.16 1212.8 L3488.32 1212.2 L3494.48 1211.4 L3500.63 1212.9 L3506.79 1214.3 L3512.95 1212.1 L3519.11 1214.2 L3525.27 1211.5 L3531.43 1214.3 L3537.59 1211.1 L3543.74 1212.1 L3549.90 1214.3 L3556.06 1213.9 L3562.22 1212.8" fill="none" stroke="#011656" stroke-width="11.5" stroke-linejoin="round" stroke-linecap="butt"/>
<rect x="947" y="960" width="10" height="65" fill="#011656"/>
<ellipse cx="952" cy="198" rx="27.5" ry="29.2" fill="#85dbd3"/>
<ellipse cx="747" cy="1020" rx="27.5" ry="29.2" fill="#85dbd3"/>
<ellipse cx="1125" cy="855" rx="27.5" ry="29.2" fill="#85dbd3"/>
<ellipse cx="1690.5" cy="965.5" rx="27.5" ry="29.2" fill="#85dbd3"/>
<ellipse cx="2059.2" cy="1016.2" rx="27.5" ry="29.2" fill="#85dbd3"/>
<ellipse cx="2159.4" cy="1114.5" rx="27.5" ry="29.2" fill="#85dbd3"/>
<circle cx="2043.4" cy="117.4" r="27.5" fill="#85dbd3"/>
<rect x="794.8" y="1029.8" width="46.9" height="51.2" fill="#fec957"/>
<rect x="1003.3" y="1061.5" width="47.2" height="51.0" fill="#fec957"/>
<rect x="1318" y="1116.8" width="48.0" height="47.8" fill="#fec957"/>
<rect x="1877.4" y="1120.3" width="43.8" height="50.8" fill="#fec957"/>
<rect x="2016" y="196" width="43.0" height="47.0" fill="#fec957"/>
<rect x="192" y="27" width="2190" height="4" fill="#8e8e8e"/>
<rect x="192" y="1797" width="2194" height="4" fill="#e6e6e6"/>
<path d="M197.8 31 V1791 H2380 V37 H192" fill="none" stroke="#000" stroke-width="11.8"/>
<rect x="192" y="31" width="2194" height="12" fill="#000"/>
<rect x="358.2" y="1773" width="12" height="12" fill="#000"/>
<rect x="526.1" y="1758" width="12" height="27" fill="#000"/>
<rect x="694.0" y="1773" width="12" height="12" fill="#000"/>
<rect x="861.9" y="1758" width="12" height="27" fill="#000"/>
<rect x="1029.8" y="1773" width="12" height="12" fill="#000"/>
<rect x="1197.7" y="1758" width="12" height="27" fill="#000"/>
<rect x="1365.6" y="1773" width="12" height="12" fill="#000"/>
<rect x="1533.5" y="1758" width="12" height="27" fill="#000"/>
<rect x="1701.4" y="1773" width="12" height="12" fill="#000"/>
<rect x="1869.3" y="1758" width="12" height="27" fill="#000"/>
<rect x="2037.2" y="1773" width="12" height="12" fill="#000"/>
<rect x="2205.1" y="1758" width="12" height="27" fill="#000"/>
<text x="199.5" y="1887" font-family="'Liberation Serif', 'Times New Roman', serif" font-weight="bold" font-size="76" text-anchor="middle">10</text>
<text x="534.0" y="1887" font-family="'Liberation Serif', 'Times New Roman', serif" font-weight="bold" font-size="76" text-anchor="middle">20</text>
<text x="867.7" y="1887" font-family="'Liberation Serif', 'Times New Roman', serif" font-weight="bold" font-size="76" text-anchor="middle">30</text>
<text x="1204.0" y="1887" font-family="'Liberation Serif', 'Times New Roman', serif" font-weight="bold" font-size="76" text-anchor="middle">40</text>
<text x="1539.4" y="1887" font-family="'Liberation Serif', 'Times New Roman', serif" font-weight="bold" font-size="76" text-anchor="middle">50</text>
<text x="1875.7" y="1887" font-family="'Liberation Serif', 'Times New Roman', serif" font-weight="bold" font-size="76" text-anchor="middle">60</text>
<text x="2212.2" y="1887" font-family="'Liberation Serif', 'Times New Roman', serif" font-weight="bold" font-size="76" text-anchor="middle">70</text>
<text x="864.5" y="2080" font-family="'Liberation Serif', 'Times New Roman', serif" font-weight="bold" font-size="115" letter-spacing="1.15">2 Theta (degree)</text>
<text transform="translate(109 1257) rotate(-90)" font-family="'Liberation Serif', 'Times New Roman', serif" font-weight="bold" font-size="113" letter-spacing="1.6">Intensity /a.u.</text>
<text x="2088" y="144.8" font-family="'Liberation Sans', Arial, sans-serif" font-weight="bold" font-size="78.5" letter-spacing="-0.8">Ag<tspan font-size="53" dy="19">2</tspan><tspan dy="-19">O</tspan></text>
<text x="2094" y="250.8" font-family="'Liberation Sans', Arial, sans-serif" font-weight="bold" font-size="78.5" letter-spacing="-1.6">Fe<tspan font-size="51" dy="19.5">3</tspan><tspan dy="-19.5">o</tspan><tspan font-size="51" dy="19.5">4</tspan></text>
<text x="971" y="176.7" font-family="'Liberation Sans', Arial, sans-serif" font-weight="bold" font-size="76" letter-spacing="1">(111)</text>
<text transform="translate(774.4 973.5) rotate(-90)" font-family="'Liberation Sans', Arial, sans-serif" font-weight="bold" font-size="76">(110)</text>
<text transform="translate(853.2 1018) rotate(-90)" font-family="'Liberation Sans', Arial, sans-serif" font-weight="bold" font-size="76">(220)</text>
<text transform="translate(1065.5 1021) rotate(-90)" font-family="'Liberation Sans', Arial, sans-serif" font-weight="bold" font-size="76">(311)</text>
<text transform="translate(1156.5 797.8) rotate(-90)" font-family="'Liberation Sans', Arial, sans-serif" font-weight="bold" font-size="76">(200)</text>
<text transform="translate(1366 1077) rotate(-90)" font-family="'Liberation Sans', Arial, sans-serif" font-weight="bold" font-size="76">(400)</text>
<text transform="translate(1715 904) rotate(-90)" font-family="'Liberation Sans', Arial, sans-serif" font-weight="bold" font-size="76">(220)</text>
<text transform="translate(1922.3 1100.6) rotate(-90)" font-family="'Liberation Sans', Arial, sans-serif" font-weight="bold" font-size="76">(440)</text>
<text transform="translate(2082.5 970) rotate(-90)" font-family="'Liberation Sans', Arial, sans-serif" font-weight="bold" font-size="76">(311)</text>
<text transform="translate(2200.7 1022.3) rotate(-90)" font-family="'Liberation Sans', Arial, sans-serif" font-weight="bold" font-size="76">(222)</text>
<text x="245.5" y="1061.4" font-family="'Liberation Serif', 'Times New Roman', serif" font-weight="bold" font-size="77" fill="#011656" letter-spacing="-1.3">Ag<tspan font-size="52" dy="23">2</tspan><tspan dy="-23">O/Fe</tspan><tspan font-size="52" dy="23">3</tspan><tspan dy="-23">o</tspan><tspan font-size="52" dy="23">4</tspan></text>
<text x="257" y="1438.3" font-family="'Liberation Serif', 'Times New Roman', serif" font-weight="bold" font-size="76" fill="#1a2a9c">Ag<tspan font-size="50" dy="20">2</tspan><tspan dy="-20">O</tspan></text>
<text x="268.5" y="1639.4" font-family="'Liberation Serif', 'Times New Roman', serif" font-size="76" fill="#0a9bd6" letter-spacing="1">Fe<tspan font-size="50" dy="20">3</tspan><tspan dy="-20">o</tspan><tspan font-size="50" dy="20">4</tspan></text>
</svg>
</body></html>
